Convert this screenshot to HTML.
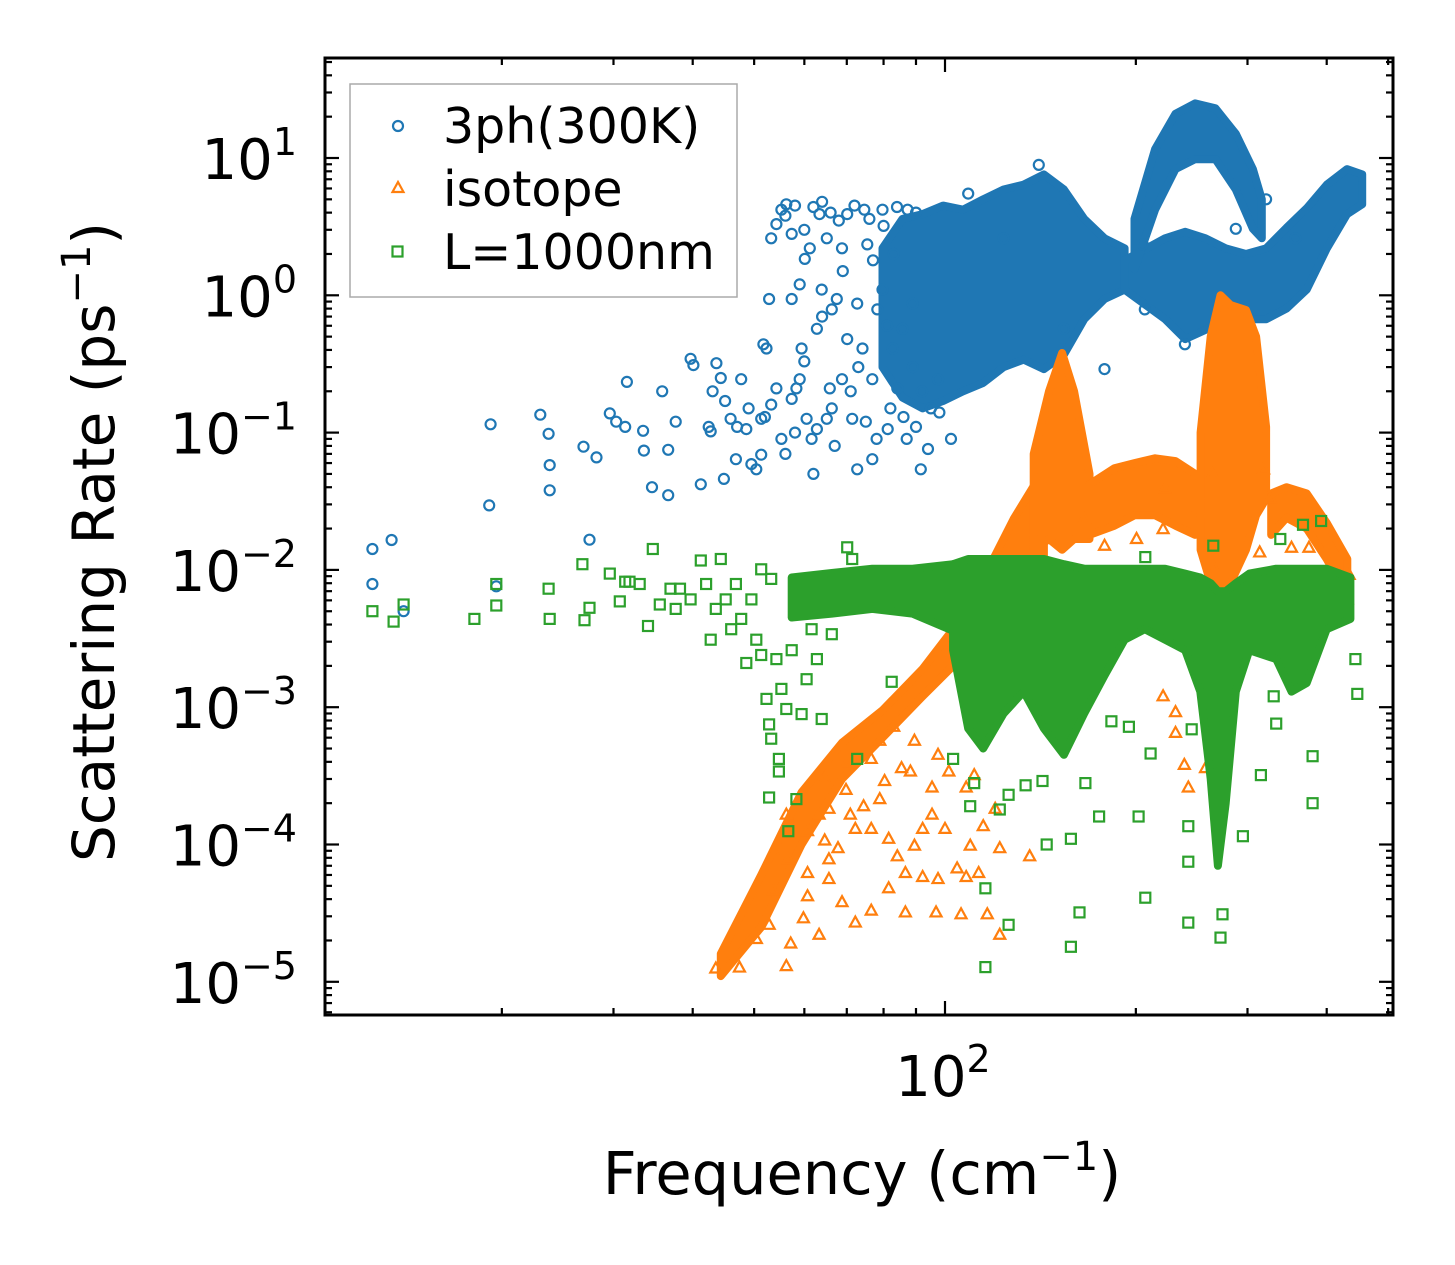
<!DOCTYPE html>
<html><head><meta charset="utf-8"><style>
html,body{margin:0;padding:0;background:#fff;}
svg{display:block;font-family:"DejaVu Sans","Liberation Sans",sans-serif;}
</style></head><body>
<svg id="chart" width="1455" height="1265" viewBox="0 0 1455 1265" xmlns="http://www.w3.org/2000/svg">
<rect width="1455" height="1265" fill="#fff"/>
<g id="bands"></g>
<g id="axes"></g>
<g id="legend">
<rect x="350" y="84" width="387" height="213" fill="#fff" fill-opacity="0.8" stroke="#aaa" stroke-width="1.5"/>
<circle cx="398" cy="126" r="5" fill="none" stroke="#1f77b4" stroke-width="2.2"/>
<text x="443" y="143" font-size="49">3ph(300K)</text>
<polygon points="398,182 403.5,192 392.5,192" fill="none" stroke="#ff7f0e" stroke-width="2.2"/>
<text x="443" y="206" font-size="49">isotope</text>
<rect x="392.5" y="246.5" width="10" height="10" fill="none" stroke="#2ca02c" stroke-width="2.2"/>
<text x="443" y="269" font-size="49">L=1000nm</text>
</g>
<text x="862" y="1194" font-size="59" text-anchor="middle">Frequency (cm<tspan dy="-24" font-size="40">−1</tspan><tspan dy="24">)</tspan></text>
<text transform="translate(114,542) rotate(-90)" font-size="58" text-anchor="middle">Scattering Rate (ps<tspan dy="-24" font-size="40">−1</tspan><tspan dy="24">)</tspan></text>
</svg>
<script>
// ---- data: 3ph scattering (scatter) ----
const blueFreq = [12.5,12.5,13.4,14,19.1,19.2,19.6,23,23.7,23.8,23.8,26.9,27.5,28.2,29.6,30.3,31.3,31.5,33.4,33.5,34.5,35.8,36.6,36.6,37.6,39.7,40.1,41.2,42.4,42.7,43.6,44.3,44.8,45.9,46.8,47.7,48.6,49.5,50.4,51.3,51.7,52.3,52.8,53.2,54.2,55.2,56.2,57.3,58.3,59,59.4,60.1,61.2,61.6,62.8,63.4,63.9,65.1,65.8,66.3,67.5,68.8,70.1,71.4,72.7,74.1,74.6,75.4,76.8,78.2,79.7,82.7,85.7,87.3,88.9,91.6,94,97.5,102.2,65.1,55.2,57.3,68.8,72.7,76.8,81.2,84.1,79.7,57.3,60.5,62.8,66.3,70.1,51.3,53.2,54.2,140.6,154,178.5,205,239,287.5,108.8,123.7,206.6,321,357,56,58,60,62,64,66,68,72,76,80,84,90,59,64,69,73,77,81,83,86,89,92,95,60,67,71,75,78,82,87,90,98,52,56,58,62,47,45,43,49];
const blueRate = [0.0142,0.0079,0.0165,0.005,0.0295,0.115,0.0076,0.135,0.098,0.058,0.038,0.079,0.0166,0.066,0.138,0.12,0.11,0.234,0.103,0.074,0.040,0.20,0.075,0.035,0.12,0.345,0.31,0.042,0.11,0.102,0.32,0.25,0.046,0.126,0.064,0.245,0.106,0.059,0.054,0.069,0.44,0.41,0.94,2.6,3.3,4.2,4.6,2.8,0.21,0.245,0.41,1.84,2.2,0.09,0.57,3.9,1.1,2.6,0.21,0.15,0.94,2.2,3.9,0.126,0.054,0.41,4.2,2.35,0.064,0.79,4.2,0.41,0.57,4.2,0.87,0.054,0.076,0.245,0.09,0.126,0.09,0.94,0.245,0.87,0.245,0.106,0.21,1.1,0.176,0.126,0.106,0.79,0.48,0.126,0.16,0.21,8.9,0.57,0.29,2.35,0.44,3.05,5.5,2.6,0.79,5.0,2.6,3.8,4.5,3.0,4.4,4.8,4.0,3.5,4.5,3.6,3.2,4.4,4.0,1.2,0.7,1.5,0.3,1.8,0.6,2.0,0.13,0.3,0.2,0.15,0.33,0.08,0.2,0.12,0.09,0.15,0.09,0.11,0.14,0.13,0.07,0.1,0.05,0.11,0.17,0.2,0.15];
// dense 3ph regions (upper/lower envelopes)
const blueBlobFreq = [79.7,85.7,92.2,99.3,106.8,114.9,123.7,133.1,143.2,154,165.8,178.5,192];
const blueBlobHi = [2.2,3.6,3.9,4.5,4.2,5.0,5.9,6.4,7.6,5.9,3.6,2.6,2.2];
const blueBlobLo = [0.3,0.18,0.15,0.17,0.2,0.23,0.3,0.34,0.29,0.37,0.67,0.94,1.1];
const blueRightFreq = [192,222.4,239.3,257.6,277.2,298.4,321.1,345.6,371.9,400.3,430.8,455];
const blueRightHi = [1.8,2.6,2.9,2.6,2.2,2.0,2.2,3.1,4.3,6.4,8.3,7.6];
const blueRightLo = [1.1,0.67,0.48,0.56,0.67,0.67,0.67,0.8,1.1,2.2,3.9,4.6];
const blueHumpFreq = [199,214.5,231,248,267,287.5,306,316];
const blueHumpHi = [3.6,11.6,21,25,23,15,8.3,5.0];
const blueHumpLo = [1.55,4.2,8.3,9.8,9.8,5.9,3.05,2.6];

// ---- data: isotope scattering ----
const orangeFreq = [43.5,47.4,50.4,52.8,53.6,56.6,53.6,60.7,64.6,65.6,69.8,72.2,76.5,80.3,85.4,88.2,81.5,86.6,92.2,97.5,92.2,95.4,100,104.5,108,113,116.6,106,122,96.8,86.6,76.5,72.2,68.8,65.6,60.7,63.3,57.1,59.8,56.2,64.6,69.8,76.5,78.9,83,89.5,97.5,101.4,108,111.2,120,122,136,109.6,114.9,95.4,78.9,74.4,70.9,63.3,56.2,60.7,65.6,67.8,81.5,84.1,89.5,231,238.5,242,257.6,220.8,231,200.5,220.8,265,326,313.6,352,375,434,318,222.4,431,264,178.5,165.8];
const orangeRate = [1.25e-5,1.27e-5,2.05e-5,2.6e-5,4.6e-5,7.8e-5,8.9e-5,1.25e-4,1.07e-4,1.82e-4,2.5e-4,1.3e-4,1.3e-4,2.9e-4,3.6e-4,3.4e-4,1.1e-4,6.2e-5,5.8e-5,5.6e-5,1.3e-4,1.65e-4,1.3e-4,6.7e-5,5.8e-5,6.2e-5,3.1e-5,3.1e-5,2.2e-5,3.2e-5,3.2e-5,3.3e-5,2.7e-5,3.8e-5,5.6e-5,4.2e-5,2.2e-5,1.9e-5,2.9e-5,1.3e-5,3.0e-4,3.8e-4,4.2e-4,5.7e-4,7.2e-4,5.7e-4,4.5e-4,3.4e-4,2.6e-4,3.2e-4,1.82e-4,9.4e-5,8.2e-5,9.8e-5,1.36e-4,2.6e-4,2.14e-4,1.9e-4,1.65e-4,1.65e-4,1.65e-4,6.2e-5,7.8e-5,9.4e-5,4.8e-5,8.2e-5,9.8e-5,6.5e-4,3.8e-4,2.6e-4,3.6e-4,1.2e-3,9.2e-4,0.0168,0.0198,0.0105,0.033,0.0134,0.0145,0.0145,0.0092,0.054,0.039,0.0061,0.05,0.015,0.0235];
const orangeRampFreq = [44.3,51.3,59.4,68.8,79.7,92.2,103,114.9,128.3,143.2];
const orangeRampHi = [1.6e-5,6e-5,2.4e-4,5.5e-4,9.5e-4,1.9e-3,3.7e-3,8.6e-3,0.0235,0.054];
const orangeRampLo = [1.1e-5,2.5e-5,1e-4,3e-4,6e-4,1.2e-3,2e-3,3.5e-3,6e-3,1e-2];
const orangePeak1Freq = [138,145.9,153,159.8,169];
const orangePeak1Hi = [0.07,0.2,0.38,0.2,0.05];
const orangePeak1Lo = [0.014,0.0168,0.014,0.0168,0.0168];
const orangePlateauFreq = [169,185,199,214.5,231,248];
const orangePlateauHi = [0.042,0.055,0.06,0.065,0.062,0.05];
const orangePlateauLo = [0.018,0.021,0.025,0.025,0.021,0.018];
const orangePeak2Freq = [253,262.5,272,282,298.4,309.5,321];
const orangePeak2Hi = [0.1,0.5,1.0,0.85,0.78,0.5,0.11];
const orangePeak2Lo = [0.014,0.008,0.006,0.008,0.014,0.025,0.033];
const orangeBumpFreq = [327,345.6,372,400,431];
const orangeBumpHi = [0.036,0.04,0.036,0.022,0.012];
const orangeBumpLo = [0.018,0.024,0.02,0.012,0.0065];

// ---- data: boundary scattering L=1000nm ----
const greenFreq = [12.5,13.5,14,18.1,19.6,19.6,23.7,23.8,26.8,27,27.5,29.6,30.7,31.3,31.8,33,34,34.6,35.5,36.9,37.6,38.2,39.7,41.2,42,42.7,43.5,44.3,45.1,46,46.8,47.7,48.6,49.5,50.4,51.3,52.3,52.8,53.2,54.2,55.2,56.2,57.3,58.3,59.4,60.5,61.6,62.8,63.9,66.3,70.1,71.4,51.3,53.2,52.8,56.6,54.7,54.7,82.4,72.7,103,109.6,115.8,115.8,126,144.7,158,163,158,175,202,207,242,242,242,272,274,295,315,333,330,380,380,447,444,392,367,338,265,207,183,195,211,245,166.5,142.5,134,126,111.2,122];
const greenRate = [0.0050,0.0042,0.0056,0.0044,0.0079,0.0055,0.0073,0.0044,0.011,0.0043,0.0053,0.0094,0.0059,0.0082,0.0082,0.0079,0.0039,0.0142,0.0056,0.0073,0.0052,0.0073,0.0061,0.0117,0.0079,0.0031,0.0052,0.012,0.0061,0.0037,0.0079,0.0044,0.0021,0.0061,0.0031,0.0024,1.15e-3,7.5e-4,5.9e-4,0.00224,0.00136,9.7e-4,0.0026,2.14e-4,8.9e-4,0.0016,0.0037,0.00224,8.2e-4,0.0034,0.0146,0.012,0.0101,0.0086,2.2e-4,1.25e-4,4.2e-4,3.4e-4,1.53e-3,4.2e-4,4.2e-4,1.9e-4,4.8e-5,1.28e-5,2.6e-5,1.0e-4,1.8e-5,3.2e-5,1.1e-4,1.6e-4,1.6e-4,4.1e-5,2.7e-5,7.5e-5,1.36e-4,2.1e-5,3.1e-5,1.15e-4,3.2e-4,7.6e-4,1.2e-3,4.4e-4,2.0e-4,1.25e-3,2.24e-3,0.0227,0.0213,0.0168,0.015,0.0124,7.9e-4,7.2e-4,4.6e-4,6.9e-4,2.8e-4,2.9e-4,2.7e-4,2.3e-4,2.8e-4,1.8e-4];
const greenLeftFreq = [57.3,66.3,76.8,88.9,103];
const greenLeftHi = [0.0088,0.0095,0.0102,0.0102,0.011];
const greenLeftLo = [0.0045,0.0048,0.0052,0.0048,0.0036];
const greenMainFreq = [103,108.8,114.9,123.7,133.1,143.2,154,165.8,178.5,192,206.6,222.4,239.3,252.7,262.5,269.4,277.2,287.5,302,333,352,372,400,436];
const greenMainHi = [0.011,0.012,0.012,0.012,0.012,0.012,0.011,0.0102,0.0102,0.0102,0.0102,0.0102,0.0094,0.0088,0.008,0.007,0.007,0.008,0.0094,0.0102,0.0102,0.0102,0.0102,0.0088];
const greenMainLo = [0.0026,7e-4,5e-4,9e-4,1.3e-3,7e-4,4.5e-4,9e-4,1.7e-3,3.1e-3,3.7e-3,3.1e-3,2.6e-3,1.3e-3,3e-4,7e-5,2e-4,1.3e-3,2.6e-3,2.24e-3,1.3e-3,1.5e-3,3.7e-3,4.4e-3];

// ---- axis ticks ----
const yMajorExp = [-5,-4,-3,-2,-1,0,1];
const yMajorLabels = ["−5","−4","−3","−2","−1","0","1"];
const xMajorVals = [100];
const xMajorLabels = ["2"];

// ---- axis functions ----
const PL = 325, PR = 1393, PT = 58, PB = 1015;
const X = f => 945 + 634 * (Math.log10(f) - 2);
const Y = r => 158 - 137.3 * (Math.log10(r) - 1);
const NS = "http://www.w3.org/2000/svg";
const COLORS = {blue:"#1f77b4", orange:"#ff7f0e", green:"#2ca02c"};

function mk(tag, parent) { const e = document.createElementNS(NS, tag); parent.appendChild(e); return e; }

const bandsG = document.getElementById('bands');
const axesG = document.getElementById('axes');

function band(freq, hi, lo, color, name) {
  const pts = [];
  for (let i = 0; i < freq.length; i++) pts.push(X(freq[i]).toFixed(1) + ',' + Y(hi[i]).toFixed(1));
  for (let i = freq.length - 1; i >= 0; i--) pts.push(X(freq[i]).toFixed(1) + ',' + Y(lo[i]).toFixed(1));
  const p = mk('polygon', bandsG);
  p.setAttribute('points', pts.join(' '));
  p.setAttribute('fill', color);
  p.setAttribute('stroke', color);
  p.setAttribute('stroke-width', '8');
  p.setAttribute('stroke-linejoin', 'round');
  
  
}

function circles(freq, rate, parent) {
  for (let i = 0; i < freq.length; i++) {
    const c = mk('circle', parent);
    c.setAttribute('cx', X(freq[i]).toFixed(1));
    c.setAttribute('cy', Y(rate[i]).toFixed(1));
    c.setAttribute('r', '5');
    c.setAttribute('fill', 'none');
    c.setAttribute('stroke', COLORS.blue);
    c.setAttribute('stroke-width', '2.2');
    
    
  }
}
function triangles(freq, rate, parent) {
  for (let i = 0; i < freq.length; i++) {
    const x = X(freq[i]), y = Y(rate[i]);
    const t = mk('polygon', parent);
    t.setAttribute('points', `${x},${y-6} ${x+5.5},${y+4} ${x-5.5},${y+4}`);
    t.setAttribute('fill', 'none');
    t.setAttribute('stroke', COLORS.orange);
    t.setAttribute('stroke-width', '2.2');
    
    
  }
}
function squares(freq, rate, parent) {
  for (let i = 0; i < freq.length; i++) {
    const x = X(freq[i]), y = Y(rate[i]);
    const s = mk('rect', parent);
    s.setAttribute('x', (x - 5).toFixed(1));
    s.setAttribute('y', (y - 5).toFixed(1));
    s.setAttribute('width', '10');
    s.setAttribute('height', '10');
    s.setAttribute('fill', 'none');
    s.setAttribute('stroke', COLORS.green);
    s.setAttribute('stroke-width', '2.2');
    
    
  }
}

// draw in matplotlib order: blue, orange, green
band(blueBlobFreq, blueBlobHi, blueBlobLo, COLORS.blue, 'band-3ph-main');
band(blueRightFreq, blueRightHi, blueRightLo, COLORS.blue, 'band-3ph-right');
band(blueHumpFreq, blueHumpHi, blueHumpLo, COLORS.blue, 'band-3ph-hump');
circles(blueFreq, blueRate, bandsG);

band(orangeRampFreq, orangeRampHi, orangeRampLo, COLORS.orange, 'band-isotope-ramp');
band(orangePeak1Freq, orangePeak1Hi, orangePeak1Lo, COLORS.orange, 'band-isotope-peak1');
band(orangePlateauFreq, orangePlateauHi, orangePlateauLo, COLORS.orange, 'band-isotope-plateau');
band(orangePeak2Freq, orangePeak2Hi, orangePeak2Lo, COLORS.orange, 'band-isotope-peak2');
band(orangeBumpFreq, orangeBumpHi, orangeBumpLo, COLORS.orange, 'band-isotope-bump');
triangles(orangeFreq, orangeRate, bandsG);

band(greenLeftFreq, greenLeftHi, greenLeftLo, COLORS.green, 'band-boundary-left');
band(greenMainFreq, greenMainHi, greenMainLo, COLORS.green, 'band-boundary-main');
squares(greenFreq, greenRate, bandsG);

// clip to plot area
const clip = mk('clipPath', document.getElementById('chart'));
clip.setAttribute('id', 'plotclip');
const cr = mk('rect', clip);
cr.setAttribute('x', PL); cr.setAttribute('y', PT); cr.setAttribute('width', PR - PL); cr.setAttribute('height', PB - PT);
bandsG.setAttribute('clip-path', 'url(#plotclip)');

// ---- axes ----
function line(x1, y1, x2, y2, w, name) {
  const l = mk('line', axesG);
  l.setAttribute('x1', x1); l.setAttribute('y1', y1); l.setAttribute('x2', x2); l.setAttribute('y2', y2);
  l.setAttribute('stroke', '#000'); l.setAttribute('stroke-width', w);
  
  
}
for (let e = -6; e <= 1; e++) {
  for (let m = 1; m <= 9; m++) {
    const y = Y(m * Math.pow(10, e));
    if (y < PT || y > PB) continue;
    const len = m === 1 ? 14 : 7;
    line(PL, y, PL + len, y, 2.2, m === 1 ? 'y-major-tick' : 'y-minor-tick');
    line(PR, y, PR - len, y, 2.2, m === 1 ? 'y-major-tick' : 'y-minor-tick');
  }
}
for (let e = 1; e <= 2; e++) {
  for (let m = 1; m <= 9; m++) {
    const x = X(m * Math.pow(10, e));
    if (x < PL || x > PR) continue;
    const len = m === 1 ? 14 : 7;
    line(x, PB, x, PB - len, 2.2, m === 1 ? 'x-major-tick' : 'x-minor-tick');
    line(x, PT, x, PT + len, 2.2, m === 1 ? 'x-major-tick' : 'x-minor-tick');
  }
}
yMajorExp.forEach((e, i) => {
  const t = mk('text', axesG);
  t.setAttribute('x', 297);
  t.setAttribute('y', Y(Math.pow(10, e)) + 21);
  t.setAttribute('font-size', '56');
  t.setAttribute('text-anchor', 'end');
  
  
  t.innerHTML = '10<tspan dy="-24" font-size="38">' + yMajorLabels[i] + '</tspan>';
});
xMajorVals.forEach((v, i) => {
  const t = mk('text', axesG);
  t.setAttribute('x', X(v) - 2);
  t.setAttribute('y', 1096);
  t.setAttribute('font-size', '56');
  t.setAttribute('text-anchor', 'middle');
  
  
  t.innerHTML = '10<tspan dy="-24" font-size="38">' + xMajorLabels[i] + '</tspan>';
});
const fr = mk('rect', axesG);
fr.setAttribute('x', PL); fr.setAttribute('y', PT); fr.setAttribute('width', PR - PL); fr.setAttribute('height', PB - PT);
fr.setAttribute('fill', 'none'); fr.setAttribute('stroke', '#000'); fr.setAttribute('stroke-width', '3');


</script>
</body></html>
